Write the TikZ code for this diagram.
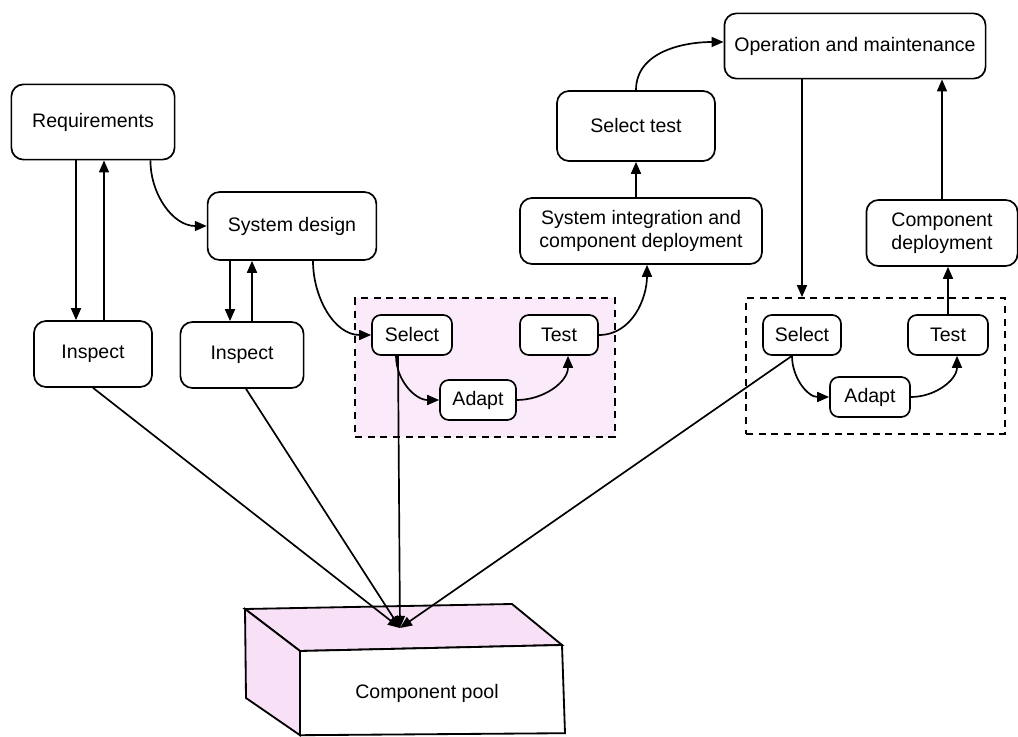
\documentclass[tikz,border=0pt]{standalone}
\usepackage{fontspec}
\setmainfont{Liberation Sans}
\definecolor{poolpink}{RGB}{248,224,246}
\definecolor{grouppink}{RGB}{251,234,249}
\usetikzlibrary{arrows.meta, positioning, fit, backgrounds}
\tikzset{
  stage/.style={rectangle, rounded corners=0.3cm, minimum width=3cm, minimum height=1.65cm, text centered, align=center, draw=black, fill=white, line width=1.2pt},
  stepbox/.style={rectangle, rounded corners=0.22cm, minimum width=1.95cm, minimum height=1cm, text centered, draw=black, fill=white, line width=1.2pt},
  group/.style={rectangle, draw=black, line width=1.5pt, dash pattern=on 5pt off 4pt, inner sep=0.4cm},
  arrow/.style={line width=1.2pt,->,>={Stealth[length=0.3cm,width=0.25cm,inset=0pt]}},
  plain/.style={line width=1.3pt}
}

\begin{document}
\begin{tikzpicture}[on grid, font=\fontsize{13.9}{16.4}\selectfont]
  \useasboundingbox (0,0) rectangle (25.45,-18.425);

  % Left part
  \node (req) [stage, minimum width=4.08cm, minimum height=1.88cm] at (2.325,-3.05) {Requirements};
  \node (sysdes) [stage, minimum width=4.22cm, minimum height=1.7cm, below right=2.6cm and 4.975cm of req] {System design};
  \node (insp1) [stage, minimum width=2.95cm, below=5.8cm of req] {Inspect};
  \node (insp2) [stage, minimum width=3.08cm, below left=3.225cm and 1.25cm of sysdes] {Inspect};

  % First select / adapt / test
  \node (sel1) [stepbox, minimum width=2cm, below right=2.725cm and 3cm of sysdes] {Select};
  \node (test1) [stepbox, right=3.675cm of sel1] {Test};
  \node (adapt1) [stepbox, minimum width=1.9cm, below right=1.625cm and 1.65cm of sel1] {Adapt};

  % Middle column
  \node (sysint) [stage, minimum width=6.05cm, above right=2.6cm and 2.05cm of test1] {System integration and\\component deployment};
  \node (seltest) [stage, minimum width=3.95cm, minimum height=1.75cm, above left=2.625cm and 0.125cm of sysint] {Select test};
  \node (ops) [stage, minimum width=6.53cm, minimum height=1.63cm, above right=2cm and 5.475cm of seltest] {Operation and maintenance};

  % Second select / adapt / test
  \node (sel2) [stepbox, right=9.75cm of sel1] {Select};
  \node (test2) [stepbox, minimum width=2cm, right=3.65cm of sel2] {Test};
  \node (adapt2) [stepbox, minimum width=2cm, below right=1.55cm and 1.7cm of sel2] {Adapt};
  \node (compdep) [stage, minimum width=3.78cm, above left=2.55cm and 0.15cm of test2] {Component\\deployment};

  % Dashed groups
  \begin{scope}[on background layer]
    \node (grp1) [group, fill=grouppink, fit=(sel1) (test1) (adapt1)] {};
    \node (grp2) [group, fit=(sel2) (test2) (adapt2)] {};
  \end{scope}

  % Component pool
  \draw [plain, fill=poolpink] (6.125,-15.225) -- (12.8,-15.1) -- (14.05,-16.125) -- (7.5,-16.275) -- cycle;
  \draw [plain, fill=poolpink] (6.125,-15.225) -- (7.5,-16.275) -- (7.5,-18.38) -- (6.15,-17.45) -- cycle;
  \draw [plain, fill=white] (7.5,-16.275) -- (14.05,-16.125) -- (14.125,-18.33) -- (7.5,-18.38) -- cycle;
  \node (pool) at (10.675,-17.325) {Component pool};
  \coordinate (pooltop) at (10,-15.7);

  % Connections
  \draw [arrow] ([xshift=-0.425cm]insp1.north |- req.south) -- ([xshift=-0.425cm]insp1.north);
  \draw [arrow] ([xshift=0.275cm]insp1.north) -- ([xshift=0.275cm]insp1.north |- req.south);
  \draw [arrow] ([xshift=-0.625cm]req.south east) to[out=-90, in=180] (sysdes.west);
  \draw [arrow] ([xshift=-0.3cm]insp2.north |- sysdes.south) -- ([xshift=-0.3cm]insp2.north);
  \draw [arrow] ([xshift=0.25cm]insp2.north) -- ([xshift=0.25cm]insp2.north |- sysdes.south);
  \draw [arrow] ([xshift=0.525cm]sysdes.south) to[out=-90, in=180] (sel1.west);
  \draw [arrow] ([xshift=-0.4cm]sel1.south) to[out=-90, in=180] (adapt1.west);
  \draw [arrow] (adapt1.east) to[out=0, in=-90] ([xshift=0.225cm]test1.south);
  \draw [arrow] (test1.east) to[out=0, in=-90] ([xshift=0.15cm]sysint.south);
  \draw [arrow] (sysint.north -| seltest) -- (seltest.south);
  \draw [arrow] (seltest.north) to[out=90, in=180] ([yshift=0.1cm]ops.west);
  \draw [arrow] (ops.south -| sel2) -- (grp2.north -| sel2);
  \draw [arrow] ([xshift=-0.25cm]sel2.south) to[out=-90, in=180] (adapt2.west);
  \draw [arrow] (adapt2.east) to[out=0, in=-90] ([xshift=0.225cm]test2.south);
  \draw [arrow] (test2.north) -- (test2.north |- compdep.south);
  \draw [arrow] (compdep.north) -- (compdep.north |- ops.south);

  % Into the pool
  \draw [arrow] (insp1.south) -- (pooltop);
  \draw [arrow] ([xshift=0.1cm]insp2.south) -- (pooltop);
  \draw [arrow] ([xshift=-0.35cm]sel1.south) -- (pooltop);
  \draw [arrow] ([xshift=-0.25cm]sel2.south) -- (pooltop);
\end{tikzpicture}
\end{document}
